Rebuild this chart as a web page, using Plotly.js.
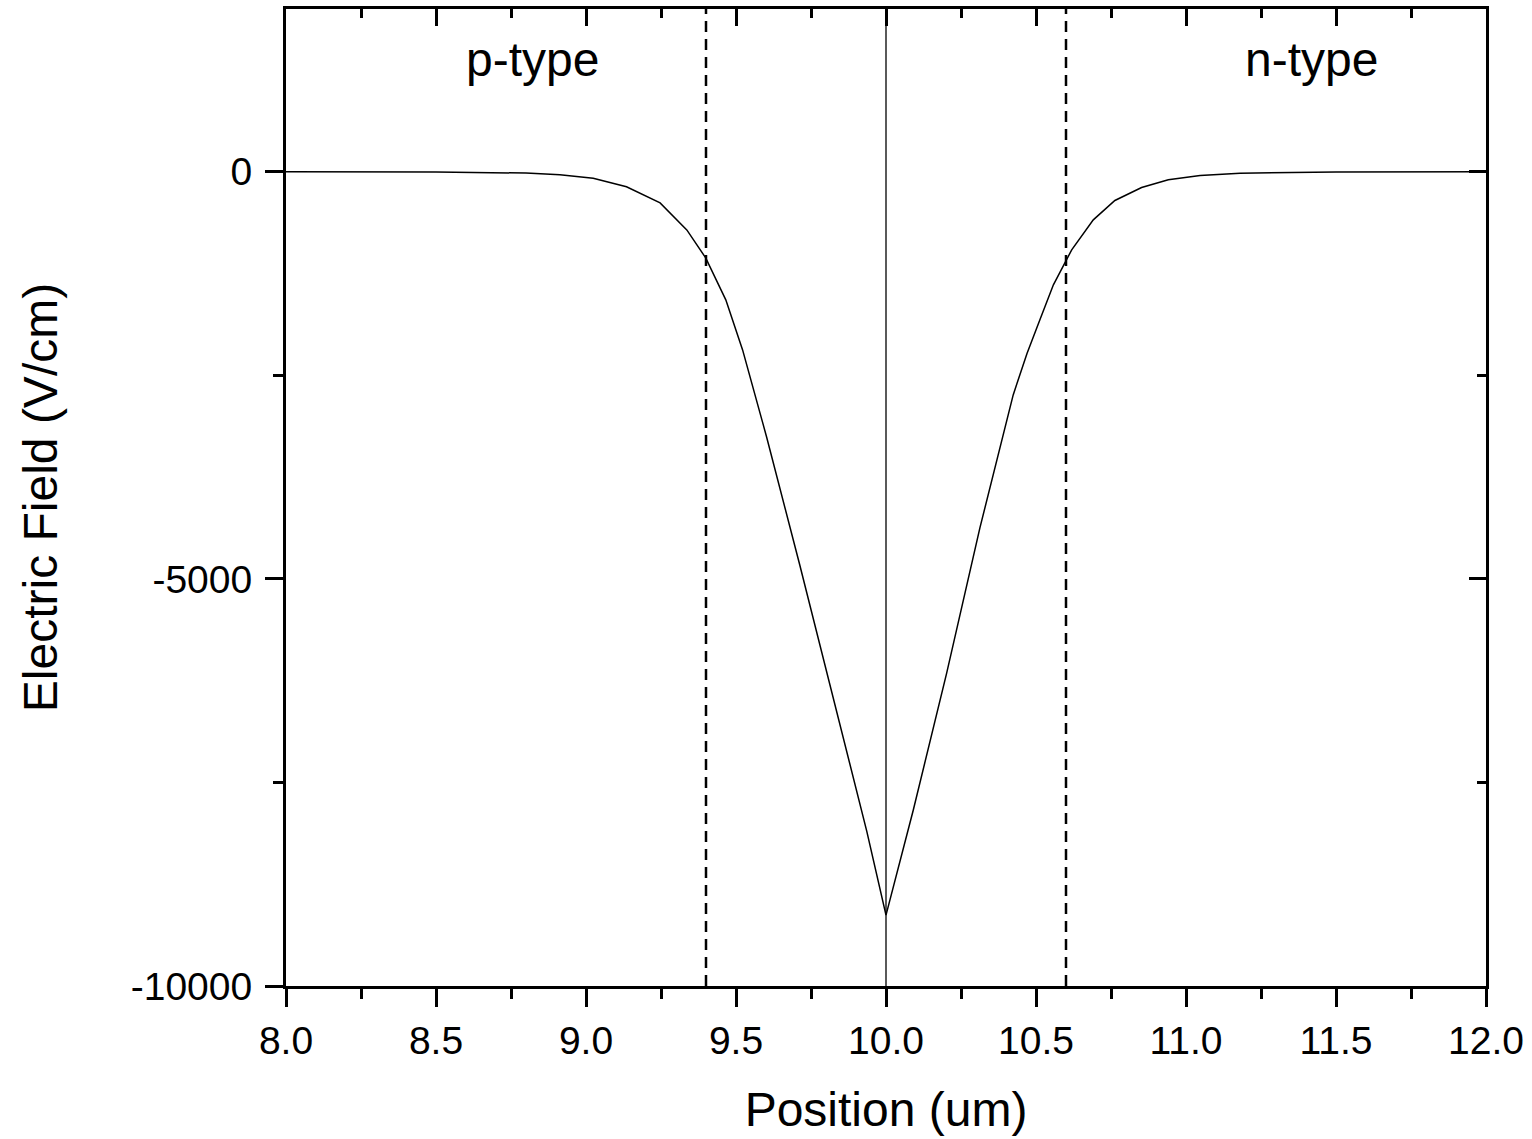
<!DOCTYPE html>
<html><head><meta charset="utf-8">
<script src="https://cdn.plot.ly/plotly-3.0.1.min.js"></script>
<style>html,body{margin:0;padding:0;background:#fff}#chart{width:1532px;height:1139px}</style>
</head><body><div id="chart"></div>
<script>
// Position (um)
const position = [8.0, 8.5, 8.8, 8.913, 9.024, 9.135, 9.247, 9.336, 9.399, 9.466, 9.522, 9.602, 9.713, 9.824, 9.936, 10.0,
  10.091, 10.202, 10.313, 10.424, 10.47, 10.513, 10.558, 10.619, 10.691, 10.763, 10.852, 10.941, 11.047, 11.18, 11.5, 12.0];
// Electric field (V/cm)
const field = [0, -3, -15, -37, -80, -184, -381, -713, -1057, -1572, -2187, -3256, -4835, -6462, -8100, -9130,
  -7838, -6160, -4373, -2740, -2230, -1818, -1388, -958, -590, -352, -193, -98, -45, -16, -3, 0];
const junction = 10.0;
const edges = [9.4, 10.6];
const regionLabels = ["p-type", "n-type"];
const regionX = [8.823, 11.417];
const regionY = [1380, 1380];
const xRange = [8, 12];
const yRange = [-10000, 2000];
const yTickVals = [-10000, -5000, 0];
const yTickText = ["-10000", "-5000", "0"];

const font = "Arial, 'Liberation Sans', sans-serif";
const shapes = [];
edges.forEach(e => shapes.push({type:'line', xref:'x', yref:'paper', x0:e, x1:e, y0:0, y1:1, layer:'above',
  line:{color:'#000', width:2.5, dash:'11px,7px'}}));

const annotations = regionLabels.map((t,i)=>({x:regionX[i], y:regionY[i], xref:'x', yref:'y', text:t,
  showarrow:false, font:{family:font, size:48, color:'#000'}}));

const traces = [
  {x: position, y: field, type:'scatter', mode:'lines', line:{color:'#000', width:1.5}, hoverinfo:'skip'},
  {x: [junction, junction], y: yRange, xaxis:'x2', yaxis:'y2', type:'scatter', mode:'lines',
    line:{color:'#000', width:1.3}, hoverinfo:'skip', cliponaxis:false}
];

const layout = {
  width:1532, height:1139, showlegend:false,
  paper_bgcolor:'#fff', plot_bgcolor:'#fff',
  margin:{l:286, r:46, t:9, b:153, pad:0},
  font:{family:font, color:'#000'},
  xaxis:{range:xRange, dtick:0.5, tick0:8, tickformat:'.1f', showgrid:false, zeroline:false,
    showline:true, linewidth:3, linecolor:'#000', ticks:'outside', ticklen:18, tickwidth:3, tickcolor:'#000',
    minor:{dtick:0.25, ticks:'outside', ticklen:10, tickwidth:3, tickcolor:'#000', showgrid:false},
    tickfont:{family:font, size:39, color:'#000'}, ticklabelstandoff:0,
    title:{text:'Position (um)', font:{family:font, size:48, color:'#000'}, standoff:32}},
  yaxis:{range:yRange, tickmode:'array', tickvals:yTickVals, ticktext:yTickText, showgrid:false, zeroline:false,
    showline:true, linewidth:3, linecolor:'#000', ticks:'outside', ticklen:18, tickwidth:3, tickcolor:'#000',
    minor:{dtick:2500, tick0:0, ticks:'outside', ticklen:10, tickwidth:3, tickcolor:'#000', showgrid:false},
    tickfont:{family:font, size:39, color:'#000'}, ticklabelstandoff:5,
    title:{text:'Electric Field (V/cm)', font:{family:font, size:48, color:'#000'}, standoff:58}},
  xaxis2:{range:xRange, overlaying:'x', side:'top', anchor:'y2', dtick:0.5, tick0:8, showticklabels:false,
    title:{text:''}, showgrid:false, zeroline:false, showline:true, linewidth:3, linecolor:'#000',
    ticks:'inside', ticklen:17, tickwidth:3, tickcolor:'#000',
    minor:{dtick:0.25, ticks:'inside', ticklen:9, tickwidth:3, tickcolor:'#000', showgrid:false}},
  yaxis2:{range:yRange, overlaying:'y', side:'right', anchor:'x2', tickmode:'array', tickvals:yTickVals, showticklabels:false,
    title:{text:''}, showgrid:false, zeroline:false, showline:true, linewidth:3, linecolor:'#000',
    ticks:'inside', ticklen:17, tickwidth:3, tickcolor:'#000',
    minor:{dtick:2500, tick0:0, ticks:'inside', ticklen:9, tickwidth:3, tickcolor:'#000', showgrid:false}},
  shapes: shapes,
  annotations: annotations
};
Plotly.newPlot('chart', traces, layout, {staticPlot:true, displayModeBar:false});
</script></body></html>
